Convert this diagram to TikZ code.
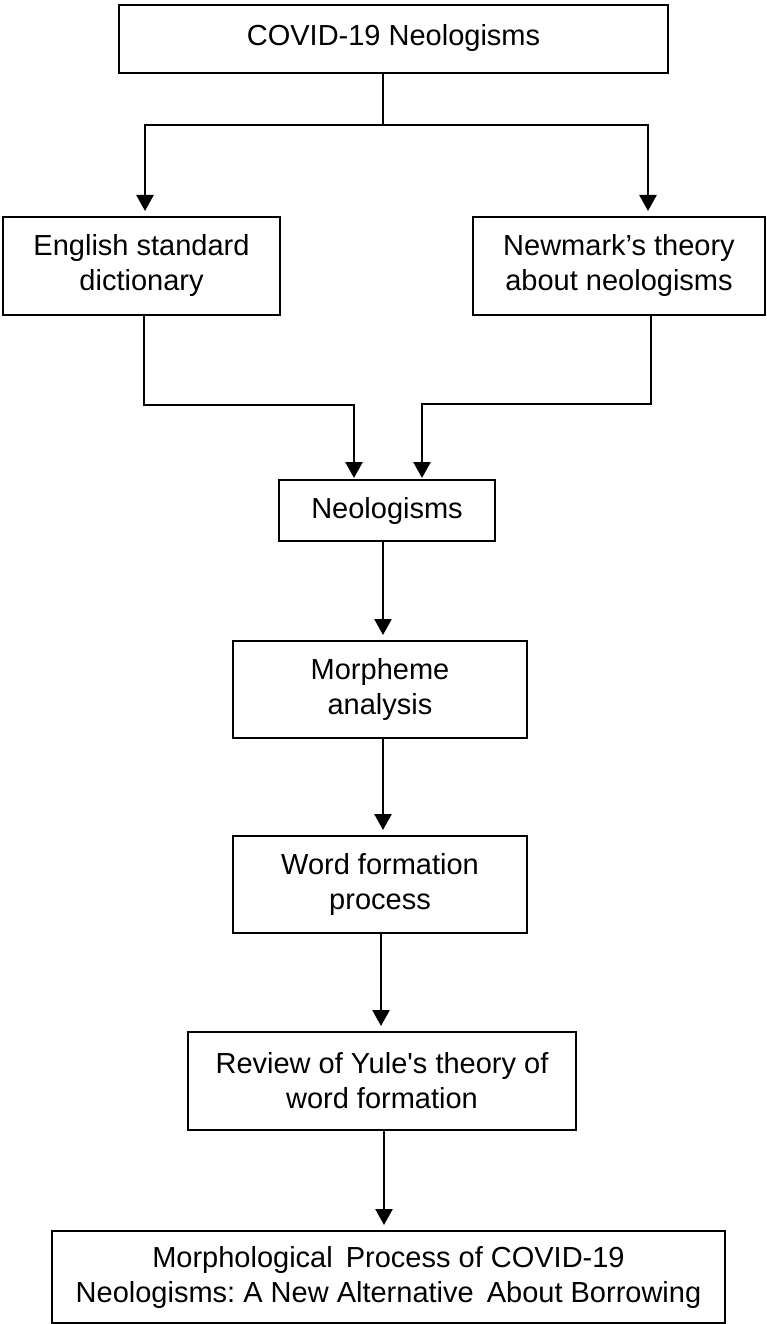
\documentclass[tikz,border=0pt]{standalone}
\usepackage{fontspec}
\setmainfont{Liberation Sans}
\usetikzlibrary{arrows.meta}
\frenchspacing
\begin{document}
\begin{tikzpicture}[x=1pt,y=-1pt,
  box/.style={draw=black,line width=2pt,inner sep=0pt,align=center,
    font=\fontsize{29}{35}\selectfont},
  conn/.style={line width=2.6pt},
  arr/.style={line width=2.6pt,-{Triangle[width=17pt,length=16pt]},shorten >=5pt}]
\useasboundingbox (0,0) rectangle (766,1324);
\node[box,minimum width=549pt,minimum height=68pt] (T) at (393.5,39) {\raisebox{8pt}{COVID-19 Neologisms}};
\node[box,minimum width=277pt,minimum height=98pt] (L) at (141.5,266) {English standard\\dictionary};
\node[box,minimum width=292pt,minimum height=98pt] (R) at (619,266) {Newmark’s theory\\about neologisms};
\node[box,minimum width=216pt,minimum height=61pt] (N) at (387,510.5) {Neologisms};
\node[box,minimum width=294pt,minimum height=97pt] (M) at (380,689.5) {Morpheme\\analysis};
\node[box,minimum width=294pt,minimum height=97pt] (W) at (380,884.5) {Word formation\\process};
\node[box,minimum width=388pt,minimum height=98pt] (Y) at (382,1081) {Review of Yule\textquotesingle s theory of\\word formation};
\node[box,minimum width=673pt,minimum height=92pt] (F) at (388.5,1277) {Morphological\hspace{5pt} Process of COVID-19\\Neologisms: A New Alternative\hspace{5pt} About Borrowing};
% top split
\draw[conn] ([xshift=-10.5pt]T.south) -- ++(0,51) coordinate (j);
\draw[arr] (j) -| ([xshift=3.5pt]L.north);
\draw[arr] (j) -| ([xshift=29pt]R.north);
% merge into Neologisms
\draw[arr,shorten >=1pt] ([xshift=2.5pt]L.south) -- ++(0,89) -| ([xshift=-33pt]N.north);
\draw[arr,shorten >=1pt] ([xshift=32pt]R.south) -- ++(0,88) -| ([xshift=35pt]N.north);
% chain
\draw[arr] ([xshift=-4pt]N.south) -- ([xshift=3pt]M.north);
\draw[arr] ([xshift=3pt]M.south) -- ([xshift=3pt]W.north);
\draw[arr] ([xshift=1pt]W.south) -- ([xshift=-1pt]Y.north);
\draw[arr] ([xshift=2pt]Y.south) -- ([xshift=-4.5pt]F.north);
\end{tikzpicture}
\end{document}
